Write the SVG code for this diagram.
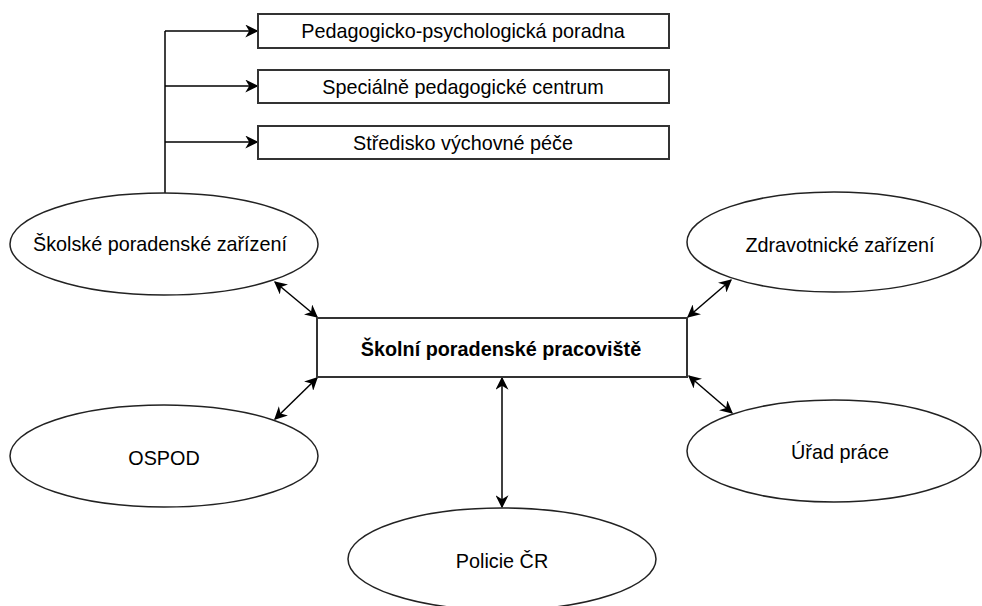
<svg xmlns="http://www.w3.org/2000/svg" width="982" height="606" viewBox="0 0 982 606">
<defs>
<marker id="ah" viewBox="0 0 10 10" refX="9" refY="5" markerWidth="13" markerHeight="13" markerUnits="userSpaceOnUse" orient="auto-start-reverse">
<path d="M0,0 L10,5 L0,10 L3,5 Z" fill="#000"/>
</marker>
<style>
.box{fill:#fff;stroke:#333;stroke-width:2}
.ell{fill:#fff;stroke:#222;stroke-width:1.5}
.t{font-family:"Liberation Sans",Arial,sans-serif;font-size:19.8px;fill:#000;text-anchor:middle;dominant-baseline:central}
.b{font-weight:bold}
.c{fill:none;stroke:#000;stroke-width:1.5}
</style>
</defs>
<rect width="982" height="606" fill="#fff"/>
<g id="connectors">
<path class="c" d="M165,193 V31"/>
<path class="c" d="M165,31 H257" marker-end="url(#ah)"/>
<path class="c" d="M165,86 H257" marker-end="url(#ah)"/>
<path class="c" d="M165,142 H257" marker-end="url(#ah)"/>
<path class="c" d="M275,282 L317,317" marker-start="url(#ah)" marker-end="url(#ah)"/>
<path class="c" d="M317,378 L275,419" marker-start="url(#ah)" marker-end="url(#ah)"/>
<path class="c" d="M688,317 L731,280" marker-start="url(#ah)" marker-end="url(#ah)"/>
<path class="c" d="M689,376 L732,413" marker-start="url(#ah)" marker-end="url(#ah)"/>
<path class="c" d="M502,378 V507" marker-start="url(#ah)" marker-end="url(#ah)"/>
</g>
<g id="n-ppp"><rect class="box" x="258" y="14" width="411" height="34"/><text class="t" x="463" y="31">Pedagogicko-psychologická poradna</text></g>
<g id="n-spc"><rect class="box" x="258" y="70" width="411" height="33"/><text class="t" x="463" y="87">Speciálně pedagogické centrum</text></g>
<g id="n-svp"><rect class="box" x="258" y="126" width="411" height="33"/><text class="t" x="463" y="143">Středisko výchovné péče</text></g>
<g id="n-spz"><ellipse class="ell" cx="164" cy="244" rx="154" ry="51"/><text class="t" x="160" y="244">Školské poradenské zařízení</text></g>
<g id="n-zz"><ellipse class="ell" cx="834" cy="242" rx="147" ry="50"/><text class="t" x="840" y="245">Zdravotnické zařízení</text></g>
<g id="n-spp"><rect class="box" x="317" y="318" width="370" height="59"/><text class="t b" x="501" y="349">Školní poradenské pracoviště</text></g>
<g id="n-ospod"><ellipse class="ell" cx="164" cy="456" rx="154" ry="51"/><text class="t" x="164" y="458">OSPOD</text></g>
<g id="n-up"><ellipse class="ell" cx="834" cy="451" rx="147" ry="51"/><text class="t" x="840" y="452">Úřad práce</text></g>
<g id="n-pcr"><ellipse class="ell" cx="502" cy="559" rx="154" ry="51"/><text class="t" x="502" y="561">Policie ČR</text></g>
</svg>
